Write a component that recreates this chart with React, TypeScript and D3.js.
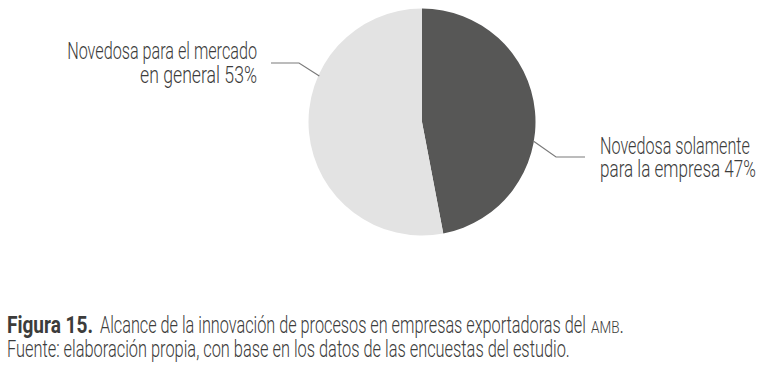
import React, { useLayoutEffect, useRef, useState } from "react";
import * as d3 from "d3";

const categories = ["Novedosa solamente para la empresa", "Novedosa para el mercado en general"];
const values = [47, 53];
const labelLines = [
  ["Novedosa solamente", "para la empresa 47%"],
  ["Novedosa para el mercado", "en general 53%"],
];
const sliceColors = ["#575756", "#e3e3e3"];
const captionBold = "Figura 15.";
const captionText = "Alcance de la innovación de procesos en empresas exportadoras del";
const captionAbbr = "AMB";
const sourceText = "Fuente: elaboración propia, con base en los datos de las encuestas del estudio.";

const W = 762;
const H = 376;
const cx = 422;
const cy = 122;
const R = 113.5;
const FONT = "Roboto, 'Liberation Sans', sans-serif";
const TEXT_COLOR = "#3c3c3b";
const FS = 23;

const labelLayout = [
  { angleOffset: 0.262, elbow: [556, 157], end: [585, 157], textX: 600, anchor: "start", baselines: [153.5, 177], widths: [150, 156] },
  { angleOffset: 0.515, elbow: [299, 63], end: [271, 63], textX: 257, anchor: "end", baselines: [59, 83], widths: [190, 117] },
];

function FitText(props: {
  x: number;
  y: number;
  width: number;
  anchor?: "start" | "end";
  size?: number;
  weight?: number | string;
  children: React.ReactNode;
}) {
  const ref = useRef<SVGTextElement>(null);
  const [k, setK] = useState(1);
  useLayoutEffect(() => {
    if (ref.current) {
      const n = ref.current.getComputedTextLength();
      if (n > 0) setK(props.width / n);
    }
  }, [props.width]);
  return (
    <text
      ref={ref}
      transform={`translate(${props.x},${props.y}) scale(${k},1)`}
      textAnchor={props.anchor || "start"}
      fontFamily={FONT}
      fontSize={props.size || FS}
      fontWeight={props.weight ?? 300}
      fill={TEXT_COLOR}
    >
      {props.children}
    </text>
  );
}

export default function App() {
  const data = categories.map((c, i) => ({ c, v: values[i], i }));
  const pie = d3.pie<any>().value((d) => d.v).sort(null).startAngle(0).endAngle(2 * Math.PI);
  const arcs = pie(data);
  const arc = d3.arc<any>().innerRadius(0).outerRadius(R);

  return (
    <svg width={W} height={H} style={{ position: "absolute", left: 0, top: 0 }}>
      <g transform={`translate(${cx},${cy})`}>
        {arcs.map((a, i) => (
          <path key={i} d={arc(a) as string} fill={sliceColors[i]} />
        ))}
      </g>
      {arcs.map((a, i) => {
        const L = labelLayout[i];
        const ang = (a.startAngle + a.endAngle) / 2 + L.angleOffset;
        const sx = cx + Math.sin(ang) * (R - 1);
        const sy = cy - Math.cos(ang) * (R - 1);
        return (
          <g key={"l" + i}>
            <polyline
              points={`${sx},${sy} ${L.elbow[0]},${L.elbow[1]} ${L.end[0]},${L.end[1]}`}
              fill="none"
              stroke="#7a7a7a"
              strokeWidth={1.2}
            />
            {labelLines[i].map((t, j) => (
              <FitText key={j} x={L.textX} y={L.baselines[j]} width={L.widths[j]} anchor={L.anchor as any}>
                {t}
              </FitText>
            ))}
          </g>
        );
      })}
      <FitText x={7} y={333} width={86} weight="bold">
        {captionBold}
      </FitText>
      <FitText x={100} y={333} width={486}>
        {captionText}
      </FitText>
      <FitText x={591} y={333} width={33}>
        <tspan fontSize={17}>{captionAbbr}</tspan>.
      </FitText>
      <FitText x={7} y={357} width={563}>
        {sourceText}
      </FitText>
    </svg>
  );
}
